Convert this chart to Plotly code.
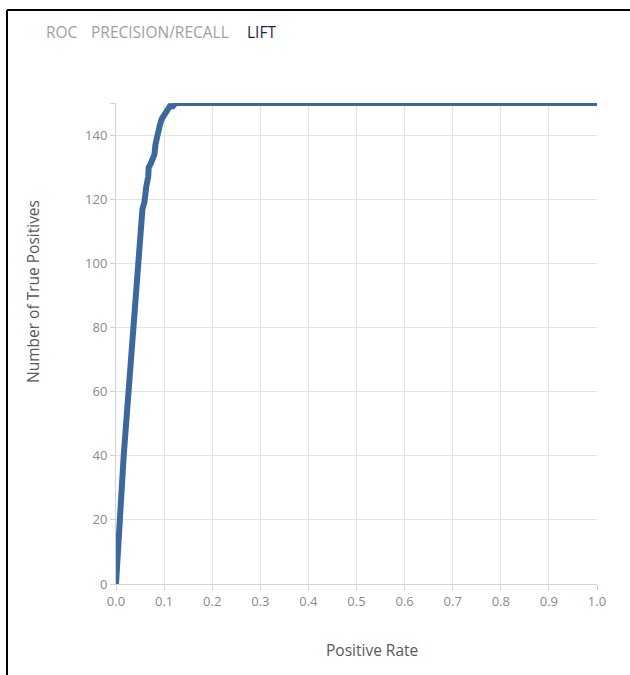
import plotly.graph_objects as go

# Lift curve: cumulative true positives against the positive rate
positive_rate = [0.000, 0.007, 0.012, 0.016, 0.021, 0.026, 0.030, 0.035, 0.040, 0.045,
                 0.049, 0.053, 0.055, 0.059, 0.060, 0.063, 0.067, 0.068, 0.072, 0.076,
                 0.080, 0.082, 0.085, 0.088, 0.091, 0.095, 0.099, 0.103, 0.106, 0.112,
                 0.118, 0.124, 1.000]
true_positives = [0, 20, 30, 40, 50, 60, 70, 78, 89, 99,
                  107, 113, 117, 119, 122, 124, 127, 130, 131, 133,
                  134, 137, 140, 142, 143, 145, 146, 147, 148, 149,
                  149, 150, 150]

x_ticks = [0.0, 0.1, 0.2, 0.3, 0.4, 0.5, 0.6, 0.7, 0.8, 0.9, 1.0]
y_ticks = [0, 20, 40, 60, 80, 100, 120, 140, 150]
y_tick_text = ["0", "20", "40", "60", "80", "100", "120", "140", ""]

tabs = ["ROC", "PRECISION/RECALL", "LIFT"]
tab_colors = ["#a0a0a0", "#a0a0a0", "#1e1e4e"]

W, H = 630, 675
L, R, T, B = 116, 33, 103, 91
pw, ph = W - L - R, H - T - B


def px_x(p):
    return (p - L) / pw


def px_y(p):
    return (H - B - p) / ph


fig = go.Figure()
fig.add_trace(go.Scatter(
    x=positive_rate, y=true_positives, mode="lines",
    line=dict(color="#3d689e", width=6),
    hoverinfo="x+y", showlegend=False,
))

font = "Open Sans, Noto Sans, sans-serif"
axis_common = dict(
    showline=True, linecolor="#d2d2d2", linewidth=1,
    ticks="outside", ticklen=5, tickcolor="#d2d2d2",
    showgrid=True, gridcolor="#e3e3e3", gridwidth=1,
    zeroline=False,
    tickfont=dict(family=font, size=13, color="#8a8a8a"),
)

fig.update_layout(
    width=W, height=H,
    margin=dict(l=L, r=R, t=T, b=B),
    paper_bgcolor="white", plot_bgcolor="white",
    xaxis=dict(range=[0, 1], tickvals=x_ticks, tickformat=".1f", **axis_common),
    yaxis=dict(range=[0, 150], tickvals=y_ticks, ticktext=y_tick_text, **axis_common),
)

# Tab headers along the top
tab_x = [44, 89, 245]
for label, color, xp in zip(tabs, tab_colors, tab_x):
    fig.add_annotation(x=px_x(xp), y=px_y(32), xref="paper", yref="paper",
                       text=label, showarrow=False, xanchor="left", yanchor="middle",
                       font=dict(family=font, size=15.5, color=color))

# Axis titles
fig.add_annotation(x=px_x(372), y=px_y(650), xref="paper", yref="paper",
                   text="Positive Rate", showarrow=False, xanchor="center", yanchor="middle",
                   font=dict(family=font, size=15.5, color="#595959"))
fig.add_annotation(x=px_x(33), y=px_y(292), xref="paper", yref="paper",
                   text="Number of True Positives", showarrow=False, textangle=-90,
                   xanchor="center", yanchor="middle",
                   font=dict(family=font, size=15.5, color="#595959"))

# Frame on the top and left edges of the panel
fig.add_shape(type="line", xref="paper", yref="paper",
              x0=px_x(7), y0=px_y(10), x1=px_x(W + 5), y1=px_y(10),
              line=dict(color="black", width=2))
fig.add_shape(type="line", xref="paper", yref="paper",
              x0=px_x(7), y0=px_y(10), x1=px_x(7), y1=px_y(H + 5),
              line=dict(color="black", width=2))

fig.write_html("out.html")
